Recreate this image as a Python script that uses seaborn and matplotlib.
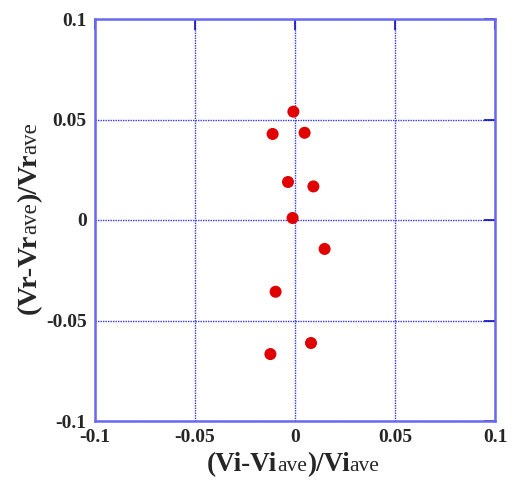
import matplotlib
matplotlib.use("Agg")
import matplotlib.pyplot as plt
import seaborn as sns
import pandas as pd

vi_dev = [-0.0008, -0.0112, 0.0048, -0.0035, 0.0092, -0.0012, 0.0148, -0.0097, 0.0080, -0.0123]
vr_dev = [0.0539, 0.0428, 0.0434, 0.0189, 0.0167, 0.0010, -0.0144, -0.0357, -0.0612, -0.0667]
ticks = [-0.1, -0.05, 0, 0.05, 0.1]
tick_labels = ["-0.1", "-0.05", "0", "0.05", "0.1"]

df = pd.DataFrame({"x": vi_dev, "y": vr_dev})

sns.set_style("white")
plt.rcParams['font.family'] = ['Liberation Serif', 'DejaVu Serif']

fig = plt.figure(figsize=(5.15, 4.82), dpi=100)
ax = fig.add_axes([95/515, 1-421/482, 400/515, 402/482])

sns.scatterplot(data=df, x="x", y="y", ax=ax, color="#e00000", s=75,
                edgecolor="none", zorder=5, legend=False)

ax.set_xlim(-0.1, 0.1)
ax.set_ylim(-0.1, 0.1)
ax.set_xticks(ticks)
ax.set_yticks(ticks)
ax.set_xticklabels(tick_labels, fontsize=14, fontweight="bold")
ax.set_yticklabels(tick_labels, fontsize=14, fontweight="bold")
ax.tick_params(direction="in", length=8, width=1.2, color="#1010c0",
               top=True, right=True, pad=6)
ax.grid(True, color="#3535e8", linestyle=(0, (1, 0.8)), linewidth=1.0)
for sp in ax.spines.values():
    sp.set_color("#6a6af0")
    sp.set_linewidth(1.8)
    sp.set_visible(True)
ax.set_xlabel("")
ax.set_ylabel("")

fig.canvas.draw()
renderer = fig.canvas.get_renderer()

def chunk_width(s, size, weight):
    t = fig.text(0, 0, s, fontsize=size, fontweight=weight)
    w = t.get_window_extent(renderer).width
    t.remove()
    return w

xchunks = [("(Vi-Vi", 19.5, "bold"), ("ave", 15.5, "normal"), (")/Vi", 19.5, "bold"), ("ave", 15.5, "normal")]
ychunks = [("(Vr-Vr", 20.5, "bold"), ("ave", 16.5, "normal"), (")/Vr", 20.5, "bold"), ("ave", 16.5, "normal")]

# x label centered at x=294px, baseline ~ y=470px from top
total = sum(chunk_width(s, sz, w) for s, sz, w in xchunks)
x0 = 293 - total / 2
base_y = 482 - 471
for s, sz, w in xchunks:
    fig.text(x0 / 515, base_y / 482, s, fontsize=sz, fontweight=w,
             ha="left", va="baseline", rotation_mode="anchor")
    x0 += chunk_width(s, sz, w)

# y label rotated, centered at y=218px from top, baseline ~ x=36px
total = sum(chunk_width(s, sz, w) for s, sz, w in ychunks)
y0 = (482 - 218) - total / 2
base_x = 36
for s, sz, w in ychunks:
    fig.text(base_x / 515, y0 / 482, s, fontsize=sz, fontweight=w,
             ha="left", va="baseline", rotation=90, rotation_mode="anchor")
    y0 += chunk_width(s, sz, w)

fig.savefig("out.png", dpi=100)
